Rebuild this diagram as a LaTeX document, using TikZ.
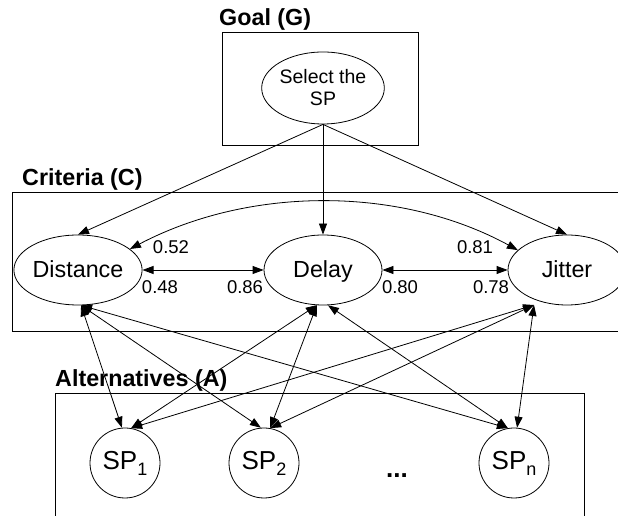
\documentclass[tikz,border=0pt]{standalone}
\usepackage{fontspec}
\setmainfont{Liberation Sans}
\usetikzlibrary{arrows.meta,shapes.geometric}
\tikzset{
  ell/.style={draw,line width=0.8pt,ellipse,inner sep=0pt,minimum width=118pt,minimum height=70pt,text height=18pt,text depth=2pt,font=\fontsize{23.3}{26}\selectfont},
  spc/.style={draw,line width=0.8pt,circle,inner sep=0pt,minimum size=70pt,font=\fontsize{26}{28}\selectfont},
  grp/.style={draw,line width=1pt},
  ttl/.style={anchor=west,inner sep=0pt,font=\fontsize{23.3}{26}\selectfont\bfseries},
  num/.style={inner sep=0pt,font=\fontsize{18.5}{20}\selectfont},
  con/.style={line width=0.8pt,{Triangle[length=11pt,width=8pt]}-{Triangle[length=11pt,width=8pt]}},
  one/.style={line width=0.8pt,-{Triangle[length=11pt,width=8pt]}}
}
\newcommand{\subsp}[1]{SP\raisebox{-6pt}{\fontsize{18}{18}\selectfont #1}}
\begin{document}
\begin{tikzpicture}[x=1pt,y=1pt]
\useasboundingbox (0,0) rectangle (618,516);
\begin{scope}
\clip (0,0) rectangle (618,516);
% group boxes
\draw[grp] (222,483) rectangle (418,370);
\draw[grp] (12,323) rectangle (640,184);
\draw[grp] (55,122) rectangle (584,-20);
\node[ttl] (tg) at (219,497) {Goal (G)};
\node[ttl] (tc) at (22,337) {Criteria (C)};
\node[ttl] (ta) at (55,136) {Alternatives (A)};
% nodes
\node[ell,minimum height=72pt,text height=,text depth=,font=\fontsize{19.5}{22}\selectfont,align=center] (goal) at (323,428) {Select the\\SP};
\node[ell] (dist) at (78,246) {Distance};
\node[ell] (delay) at (323,246) {Delay};
\node[ell] (jit) at (567,246) {Jitter};
\node[spc] (sp1) at (125,53) {\subsp{1}};
\node[spc] (sp2) at (264,53) {\subsp{2}};
\node[spc] (spn) at (514,53) {\subsp{n}};
\node[inner sep=0pt,anchor=base,font=\fontsize{26}{28}\selectfont\bfseries] (dots) at (397,38) {...};
\coordinate (jb) at (534,211);
% goal to criteria
\draw[one] (goal.south) -- (dist.north);
\draw[one] (goal.south) -- (delay.north);
\draw[one] (goal.south) -- (jit.north);
% criteria pairwise
\draw[con] (dist.east) -- (delay.west);
\draw[con] (delay.east) -- (jit.west);
\draw[con] (dist.22) .. controls (250,330) and (400,330) .. (jit.158);
\node[num] (n52) at (171,269) {0.52};
\node[num] (n48) at (160,229) {0.48};
\node[num] (n86) at (245,229) {0.86};
\node[num] (n81) at (475,269) {0.81};
\node[num] (n80) at (400,229) {0.80};
\node[num] (n78) at (491,229) {0.78};
% criteria to alternatives
\draw[con] (dist.-85) -- (sp1.95);
\draw[con] (dist.-85) -- (sp2.95);
\draw[con] (dist.-85) -- (spn.100);
\draw[con] (delay.-100) -- (sp1.80);
\draw[con] (delay.-100) -- (sp2.80);
\draw[con] (delay.-82) -- (spn.100);
\draw[con] (jb) -- (sp1.80);
\draw[con] (jb) -- (sp2.80);
\draw[con] (jb) -- (spn.85);
\end{scope}
\end{tikzpicture}
\end{document}
